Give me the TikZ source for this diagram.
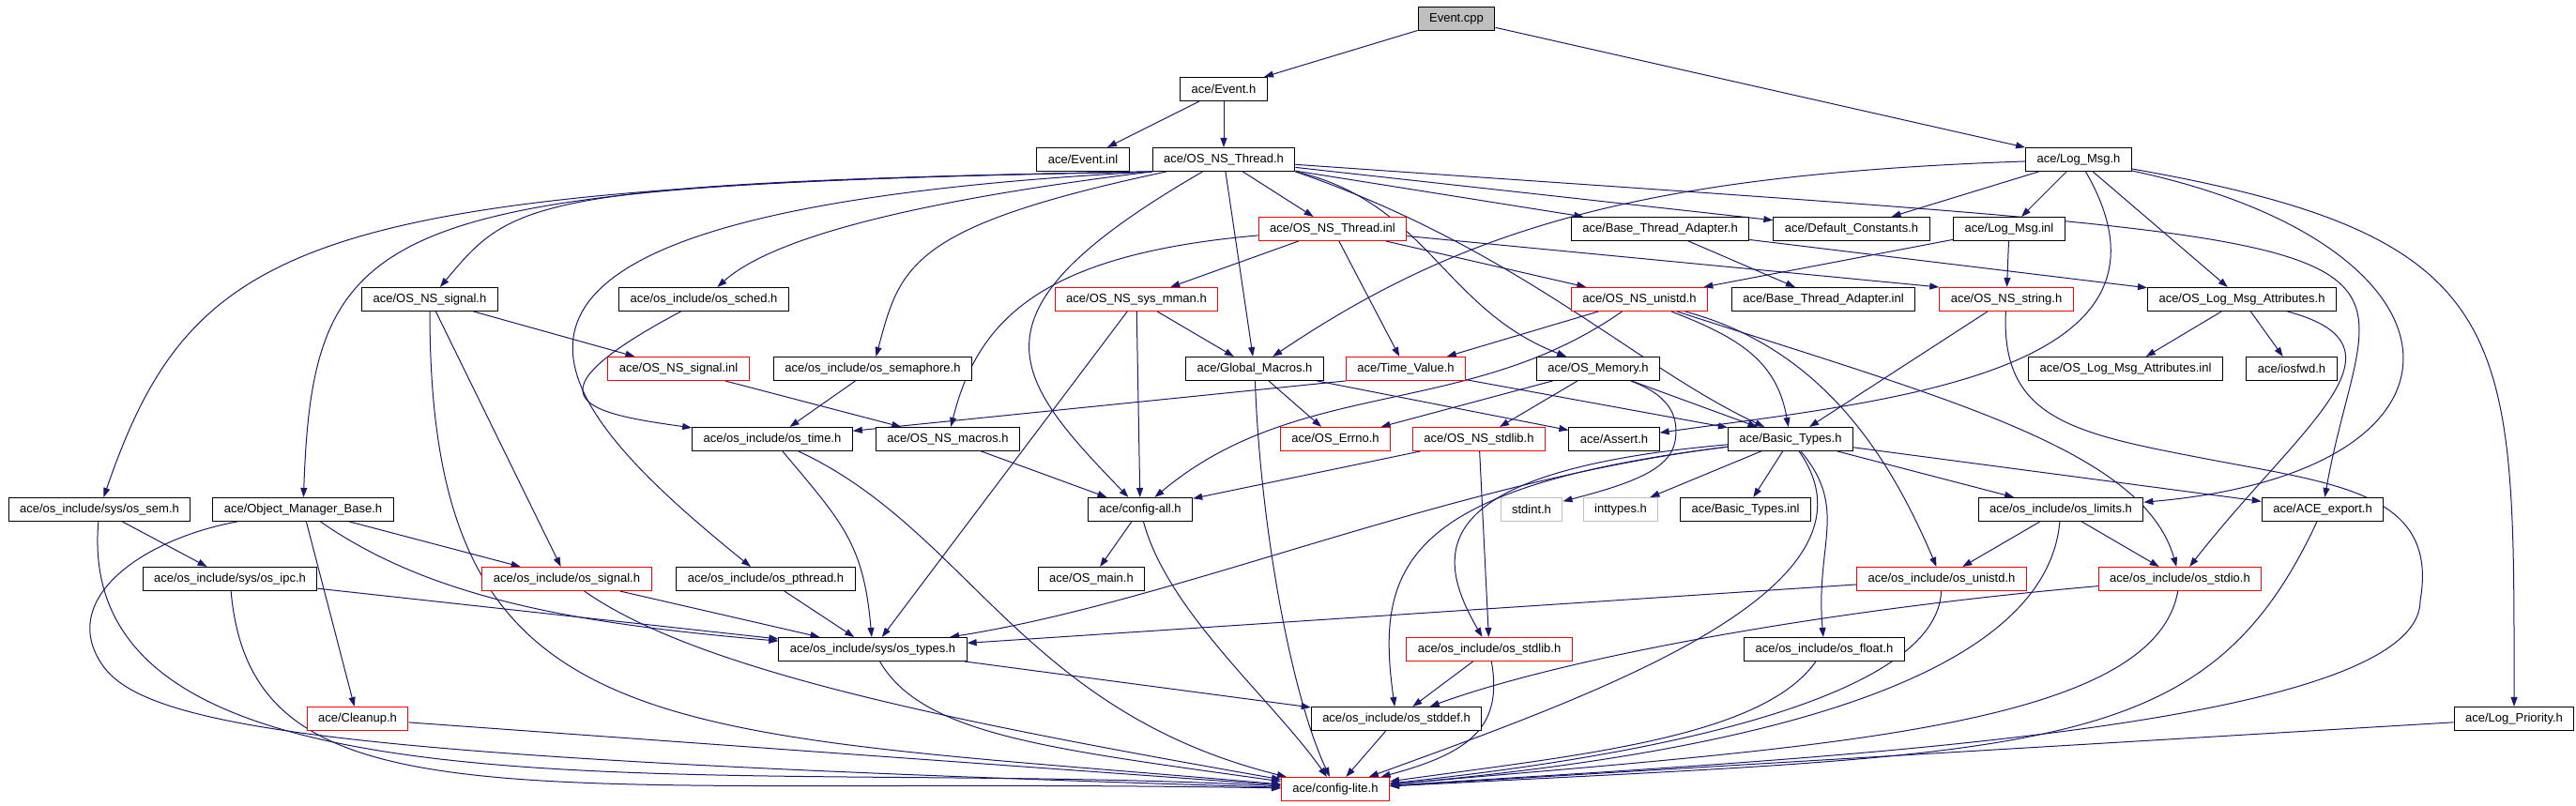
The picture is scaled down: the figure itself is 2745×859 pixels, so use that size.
\documentclass[tikz,border=0pt]{standalone}
\usepackage{fontspec}
\setmainfont{Liberation Sans}
\usetikzlibrary{arrows.meta,backgrounds}
\definecolor{edgeblue}{HTML}{191970}
\definecolor{rootgray}{HTML}{BFBFBF}
\tikzset{
    every picture/.style={>={Triangle[length=1pt,width=0.7pt]},x=0.1pt,y=0.1pt},
}
\begin{document}
\begin{tikzpicture}[file/.style={draw=black,fill=white,line width=0.1pt,minimum height=2.5pt,inner xsep=1.2pt,inner ysep=0pt,font=\fontsize{1.3pt}{1.5pt}\selectfont},
    trunc/.style={file,draw=red},
    ext/.style={file,draw=rootgray},
    root/.style={file,fill=rootgray},
    link/.style={draw=edgeblue,line width=0.1pt},
    every edge/.style={link}]
\useasboundingbox (0,0) rectangle (2745,-859);

\node[root] (cpp) at (1552,-20) {Event.cpp};
\node[file] (evh) at (1304,-95) {ace/Event.h};
\node[file] (evinl) at (1154,-170) {ace/Event.inl};
\node[file] (nsthr) at (1304,-170) {ace/OS\_NS\_Thread.h};
\node[file] (logmsg) at (2215,-170) {ace/Log\_Msg.h};
\node[trunc] (thrinl) at (1420,-244) {ace/OS\_NS\_Thread.inl};
\node[file] (bta) at (1769,-244) {ace/Base\_Thread\_Adapter.h};
\node[file] (defc) at (1973,-244) {ace/Default\_Constants.h};
\node[file] (loginl) at (2141,-244) {ace/Log\_Msg.inl};
\node[file] (nssig) at (458,-319) {ace/OS\_NS\_signal.h};
\node[file] (sched) at (750,-319) {ace/os\_include/os\_sched.h};
\node[trunc] (mman) at (1211,-319) {ace/OS\_NS\_sys\_mman.h};
\node[trunc] (nsuni) at (1747,-319) {ace/OS\_NS\_unistd.h};
\node[file] (btainl) at (1943,-319) {ace/Base\_Thread\_Adapter.inl};
\node[trunc] (nsstr) at (2138,-319) {ace/OS\_NS\_string.h};
\node[file] (lma) at (2389,-319) {ace/OS\_Log\_Msg\_Attributes.h};
\node[trunc] (siginl) at (723,-393) {ace/OS\_NS\_signal.inl};
\node[file] (sema) at (930,-393) {ace/os\_include/os\_semaphore.h};
\node[file] (gmac) at (1337,-393) {ace/Global\_Macros.h};
\node[trunc] (tval) at (1498,-393) {ace/Time\_Value.h};
\node[file] (mem) at (1703,-393) {ace/OS\_Memory.h};
\node[file] (lmainl) at (2265,-393) {ace/OS\_Log\_Msg\_Attributes.inl};
\node[file] (iosfwd) at (2442,-393) {ace/iosfwd.h};
\node[file] (otime) at (823,-468) {ace/os\_include/os\_time.h};
\node[file] (macros) at (1010,-468) {ace/OS\_NS\_macros.h};
\node[trunc] (errno) at (1423,-468) {ace/OS\_Errno.h};
\node[trunc] (nsstdlib) at (1576,-468) {ace/OS\_NS\_stdlib.h};
\node[file] (assert) at (1720,-468) {ace/Assert.h};
\node[file] (btypes) at (1908,-468) {ace/Basic\_Types.h};
\node[file] (sem) at (106,-543) {ace/os\_include/sys/os\_sem.h};
\node[file] (omb) at (323,-543) {ace/Object\_Manager\_Base.h};
\node[file] (cfgall) at (1215,-543) {ace/config-all.h};
\node[ext] (stdint) at (1632,-543) {stdint.h};
\node[ext] (inttypes) at (1727,-543) {inttypes.h};
\node[file] (btinl) at (1860,-543) {ace/Basic\_Types.inl};
\node[file] (limits) at (2196,-543) {ace/os\_include/os\_limits.h};
\node[file] (export) at (2475,-543) {ace/ACE\_export.h};
\node[file] (ipc) at (245,-617) {ace/os\_include/sys/os\_ipc.h};
\node[trunc] (osig) at (604,-617) {ace/os\_include/os\_signal.h};
\node[file] (pthr) at (816,-617) {ace/os\_include/os\_pthread.h};
\node[file] (osmain) at (1163,-617) {ace/OS\_main.h};
\node[trunc] (ouni) at (2069,-617) {ace/os\_include/os\_unistd.h};
\node[trunc] (stdio) at (2323,-617) {ace/os\_include/os\_stdio.h};
\node[file] (types) at (930,-692) {ace/os\_include/sys/os\_types.h};
\node[trunc] (ostdlib) at (1587,-692) {ace/os\_include/os\_stdlib.h};
\node[file] (float) at (1944,-692) {ace/os\_include/os\_float.h};
\node[trunc] (cleanup) at (381,-766) {ace/Cleanup.h};
\node[file] (stddef) at (1488,-766) {ace/os\_include/os\_stddef.h};
\node[file] (prio) at (2679,-766) {ace/Log\_Priority.h};
\node[trunc] (lite) at (1423,-841) {ace/config-lite.h};

\begin{scope}[on background layer]
\path (cpp) edge[->] (evh)
(cpp) edge[->] (logmsg)
(evh) edge[->] (evinl)
(evh) edge[->] (nsthr)
;
\path (nsthr.south west) edge[->,out=181,in=71,out distance=89.7pt,in distance=29.6pt] (sem)
(nsthr.south west) edge[->,out=181,in=88,out distance=82.7pt,in distance=30pt] (omb)
(nsthr.south west) edge[->,out=181,in=50,out distance=66.7pt,in distance=12pt] (nssig)
(nsthr.south west) edge[->,out=183,in=141,out distance=82.8pt,in distance=29.5pt] (pthr)
(nsthr.south west) edge[->,out=187,in=42,out distance=25pt,in distance=8pt] (sched)
(nsthr) edge[->,out=192,in=75,out distance=28pt,in distance=10pt] (sema)
(nsthr) edge[->,out=210,in=134,out distance=30pt,in distance=18pt] (cfgall)
(nsthr) edge[->] (gmac)
(nsthr) edge[->] (thrinl)
(nsthr.south east) edge[->,out=-13,in=159,out distance=14.4pt,in distance=14pt] (mem)
(nsthr.south east) edge[->,out=-19,in=155,out distance=25pt,in distance=15pt] (btypes)
(nsthr) edge[->] (bta)
(nsthr) edge[->] (defc)
(nsthr) edge[->,out=-4,in=80,out distance=132pt,in distance=30pt] (export)
;
\path (thrinl) edge[->] (mman)
(thrinl) edge[->,out=185,in=76,out distance=23pt,in distance=11.9pt] (macros)
(thrinl) edge[->] (tval)
(thrinl) edge[->] (nsuni)
(thrinl) edge[->] (nsstr.north west)
;
\path (logmsg) edge[->,out=182,in=34,out distance=40pt,in distance=25pt] (gmac)
(logmsg) edge[->] (defc)
(logmsg) edge[->] (loginl)
(logmsg) edge[->,out=-60,in=8,out distance=25pt,in distance=24pt] (assert)
(logmsg) edge[->] (lma)
(logmsg) edge[->,out=-12,in=5,out distance=38pt,in distance=38pt] (limits)
(logmsg) edge[->,out=-10,in=90,out distance=42pt,in distance=40pt] (prio)
;
\path (loginl) edge[->] (nsuni)
(loginl) edge[->] (nsstr)
(bta) edge[->] (btainl)
(bta) edge[->] (lma)
(lma) edge[->] (lmainl)
(lma) edge[->] (iosfwd)
(lma) edge[->,out=-15,in=52,out distance=14.6pt,in distance=19pt] (stdio)
;
\path (nssig) edge[->] (siginl)
(nssig) edge[->] (osig)
(nssig) edge[->,out=-90,in=175,out distance=46.8pt,in distance=66.8pt] (lite)
(siginl) edge[->] (macros)
(sched) edge[->,out=208,in=172,out distance=20pt,in distance=11pt] (otime)
(sema) edge[->] (otime)
(mman) edge[->] (types)
(mman) edge[->] (cfgall)
(mman) edge[->] (gmac)
;
\path (nsuni) edge[->] (tval)
(nsuni) edge[->,out=215,in=40,out distance=20pt,in distance=20pt] (cfgall)
(nsuni) edge[->,out=-21,in=100,out distance=8pt,in distance=7pt] (btypes)
(nsuni) edge[->,out=-15,in=113,out distance=15pt,in distance=13pt] (ouni)
(nsuni) edge[->,out=-18,in=106,out distance=30pt,in distance=13pt] (stdio)
(nsstr) edge[->] (btypes)
;
\draw[link,->] (nsstr) .. controls (2132,-440) and (2200,-460) .. (2330,-485) .. controls (2480,-515) and (2600,-520) .. (2579,-640) .. controls (2579,-780) and (1900,-810) .. (lite);
\path (gmac) edge[->] (errno)
(gmac) edge[->,out=-88,in=115,out distance=15pt,in distance=10pt] (lite)
(gmac) edge[->] (assert)
(tval.south west) edge[->] (otime)
(tval) edge[->] (btypes)
(mem) edge[->] (errno)
(mem) edge[->] (nsstdlib)
(mem) edge[->] (btypes)
(nsstdlib) edge[->] (cfgall)
(nsstdlib) edge[->] (ostdlib)
;
\draw[link,->] (mem) .. controls (1775,-420) and (1790,-440) .. (1785,-470) .. controls (1780,-500) and (1740,-515) .. (stdint);
\path (btypes) edge[->,out=187,in=9,out distance=30pt,in distance=25pt] (types)
(btypes) edge[->,out=187,in=98,out distance=35pt,in distance=15pt] (stddef)
(btypes) edge[->,out=185,in=120,out distance=33pt,in distance=10pt] (ostdlib)
(btypes) edge[->] (inttypes)
(btypes) edge[->] (btinl)
(btypes) edge[->] (limits)
(btypes) edge[->] (export)
(btypes) edge[->,out=-55,in=20,out distance=18pt,in distance=25pt] (lite)
(btypes) edge[->,out=-50,in=95,out distance=8pt,in distance=10pt] (float)
;
\path (cfgall) edge[->] (osmain)
(cfgall) edge[->,out=-75,in=125,out distance=10pt,in distance=10pt] (lite)
(sem) edge[->] (ipc)
(sem) edge[->,out=-95,in=177,out distance=34pt,in distance=60pt] (lite)
(omb) edge[->] (cleanup)
(omb) edge[->,out=-35,in=175,out distance=15pt,in distance=20pt] (types)
(omb) edge[->] (osig)
;
\draw[link,->] (omb) .. controls (150,-575) and (60,-640) .. (110,-710) .. controls (160,-780) and (400,-810) .. (lite);
\path (ipc) edge[->] (types)
(ipc) edge[->,out=-85,in=179,out distance=26pt,in distance=80pt] (lite)
(osig) edge[->] (types)
(osig) edge[->,out=-35,in=170,out distance=15pt,in distance=35pt] (lite)
(pthr) edge[->] (types)
(cleanup) edge[->] (lite)
(types) edge[->] (stddef)
(types) edge[->,out=-60,in=172,out distance=9pt,in distance=25pt] (lite)
(otime) edge[->,out=-50,in=95,out distance=10pt,in distance=10pt] (types)
(otime) edge[->,out=-25,in=166,out distance=20pt,in distance=29pt] (lite)
(macros) edge[->] (cfgall)
;
\path (ostdlib) edge[->] (stddef)
(ostdlib) edge[->,out=-80,in=15,out distance=7pt,in distance=10pt] (lite)
(stddef) edge[->] (lite)
(float) edge[->,out=-125,in=8,out distance=10pt,in distance=20pt] (lite)
(limits) edge[->] (ouni)
(limits) edge[->] (stdio)
(limits) edge[->,out=-95,in=5,out distance=16pt,in distance=42pt] (lite)
(ouni) edge[->] (types)
(ouni) edge[->,out=-92,in=6,out distance=10pt,in distance=35pt] (lite)
(stdio) edge[->,out=185,in=20,out distance=30pt,in distance=15pt] (stddef)
(stdio) edge[->,out=-100,in=5,out distance=15pt,in distance=45pt] (lite)
(export) edge[->,out=-115,in=3,out distance=28pt,in distance=70pt] (lite)
(prio) edge[->] (lite)
;
\end{scope}
\end{tikzpicture}
\end{document}
